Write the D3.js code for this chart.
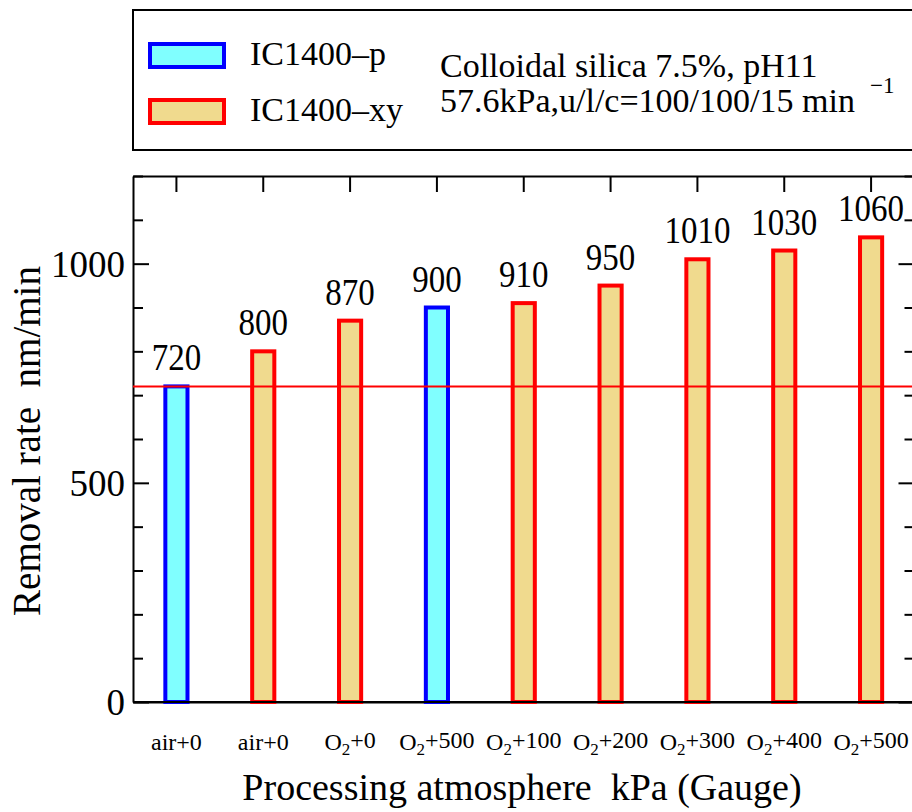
<!DOCTYPE html>
<html>
<head>
<meta charset="utf-8">
<script src="https://cdn.jsdelivr.net/npm/d3@7"></script>
<style>
  html, body { margin: 0; padding: 0; background: #fff; }
  svg { display: block; }
</style>
</head>
<body>
<svg id="chart" width="912" height="812"></svg>
<script>
// Processing atmosphere for each bar (gas + gauge pressure, kPa)
const categories = ["air+0", "air+0", "O2+0", "O2+500", "O2+100", "O2+200", "O2+300", "O2+400", "O2+500"];
// Pad type for each bar
const pads = ["IC1400–p", "IC1400–xy", "IC1400–xy", "IC1400–p", "IC1400–xy", "IC1400–xy", "IC1400–xy", "IC1400–xy", "IC1400–xy"];
// Removal rate, nm/min
const rates = [720, 800, 870, 900, 910, 950, 1010, 1030, 1060];
// Reference level (air, IC1400-p)
const referenceRate = 720;
// Y axis
const yMajorTicks = [0, 500, 1000];
const yAllTicks = [0, 100, 200, 300, 400, 500, 600, 700, 800, 900, 1000, 1100, 1200];
const yDomain = [0, 1200];
// Legend and condition notes
const legendItems = ["IC1400–p", "IC1400–xy"];
const noteLine1 = "Colloidal silica 7.5%, pH11";
const noteLine2 = "57.6kPa,u/l/c=100/100/15 min";
const noteSup = "−1";

const FONT = "'Liberation Serif', 'Times New Roman', Times, serif";

const padStyle = {
  "IC1400–p": { fill: "#80ffff", stroke: "#0000ff" },
  "IC1400–xy": { fill: "#f0da8e", stroke: "#ff0000" }
};

const svg = d3.select("#chart");
const plot = { left: 133, right: 914.5, top: 176, bottom: 702 };

const x = d3.scaleBand()
  .domain(d3.range(categories.length))
  .range([plot.left, plot.right])
  .paddingInner(0).paddingOuter(0);
const y = d3.scaleLinear().domain(yDomain).range([plot.bottom, plot.top]);

const barW = x.bandwidth() * 0.255;
const cx = i => x(i) + x.bandwidth() / 2;

function serif(sel, size) {
  return sel.style("font-family", FONT).style("font-size", size + "px").attr("fill", "#000");
}

// ---- Legend box ----
svg.append("rect")
  .attr("x", 133).attr("y", 10)
  .attr("width", 800).attr("height", 140)
  .attr("fill", "none").attr("stroke", "#000").attr("stroke-width", 2);

const legend = svg.append("g");
legendItems.forEach((name, k) => {
  const yy = [44, 100][k];
  legend.append("rect")
    .attr("x", 150).attr("y", yy)
    .attr("width", 74).attr("height", 23)
    .attr("fill", padStyle[name].fill)
    .attr("stroke", padStyle[name].stroke)
    .attr("stroke-width", 4);
  serif(legend.append("text"), 34)
    .attr("x", 250).attr("y", yy + 21)
    .text(name);
});
serif(legend.append("text"), 34).attr("x", 440).attr("y", 77).text(noteLine1);
serif(legend.append("text"), 34).attr("x", 440).attr("y", 112).text(noteLine2);
serif(legend.append("text"), 23).attr("x", 870).attr("y", 93).text(noteSup);

// ---- Axes (ticks point inward) ----
const majorLen = 16, minorLen = 10;
const tickLen = v => yMajorTicks.includes(v) ? majorLen : minorLen;

// left
const gL = svg.append("g").attr("transform", `translate(${plot.left},0)`)
  .call(d3.axisLeft(y).tickValues(yAllTicks).tickSizeOuter(0).tickPadding(8)
    .tickFormat(v => yMajorTicks.includes(v) ? v : ""));
gL.selectAll(".tick line").attr("x2", v => tickLen(v)).attr("stroke-width", 2);
serif(gL.selectAll(".tick text"), 37).attr("x", -8).attr("dy", "0.34em");

// right
const gR = svg.append("g").attr("transform", `translate(${plot.right},0)`)
  .call(d3.axisRight(y).tickValues(yAllTicks).tickSizeOuter(0).tickFormat(""));
gR.selectAll(".tick line").attr("x2", v => -tickLen(v)).attr("stroke-width", 2);

// top
const gT = svg.append("g").attr("transform", `translate(0,${plot.top})`)
  .call(d3.axisTop(x).tickSizeInner(-majorLen).tickSizeOuter(0).tickFormat(""));
gT.selectAll(".tick line").attr("stroke-width", 2);

// bottom
const gB = svg.append("g").attr("transform", `translate(0,${plot.bottom})`)
  .call(d3.axisBottom(x).tickSizeInner(-majorLen).tickSizeOuter(0).tickPadding(48)
    .tickFormat(i => categories[i]));
gB.selectAll(".tick line").attr("stroke-width", 2);
serif(gB.selectAll(".tick text"), 24)
  .attr("dy", "0")
  .each(function(i) {
    const t = d3.select(this);
    const label = categories[i];
    t.text(null);
    const m = label.match(/^(O)(2)(.*)$/);
    if (m) {
      t.append("tspan").text(m[1]);
      t.append("tspan").style("font-size", "17px").attr("dy", "0.3em").text(m[2]);
      t.append("tspan").attr("dy", "-0.3em").text(m[3]);
    } else {
      t.text(label);
    }
  });
svg.selectAll(".domain").attr("stroke-width", 2);

// ---- Bars ----
svg.append("g").selectAll("rect").data(rates).join("rect")
  .attr("x", (d, i) => cx(i) - barW / 2)
  .attr("y", d => y(d))
  .attr("width", barW)
  .attr("height", d => y(0) - y(d))
  .attr("fill", (d, i) => padStyle[pads[i]].fill)
  .attr("stroke", (d, i) => padStyle[pads[i]].stroke)
  .attr("stroke-width", 4);

// bottom frame line over the bar bases
svg.append("line")
  .attr("x1", plot.left).attr("x2", plot.right)
  .attr("y1", plot.bottom).attr("y2", plot.bottom)
  .attr("stroke", "#000").attr("stroke-width", 2);

// ---- Reference line ----
svg.append("line")
  .attr("x1", plot.left).attr("x2", plot.right)
  .attr("y1", y(referenceRate)).attr("y2", y(referenceRate))
  .attr("stroke", "#ff0000").attr("stroke-width", 2);

// ---- Value labels ----
serif(svg.append("g").selectAll("text").data(rates).join("text"), 33)
  .attr("transform", (d, i) => `translate(${cx(i)},${y(d) - 16}) scale(1,1.12)`)
  .attr("text-anchor", "middle")
  .text(d => d);

// ---- Axis titles ----
serif(svg.append("text"), 39)
  .attr("transform", `translate(40,441) rotate(-90)`)
  .attr("text-anchor", "middle")
  .style("white-space", "pre")
  .text("Removal rate  nm/min");

serif(svg.append("text"), 38)
  .attr("x", 522).attr("y", 800)
  .attr("text-anchor", "middle")
  .style("white-space", "pre")
  .text("Processing atmosphere  kPa (Gauge)");
</script>
</body>
</html>
